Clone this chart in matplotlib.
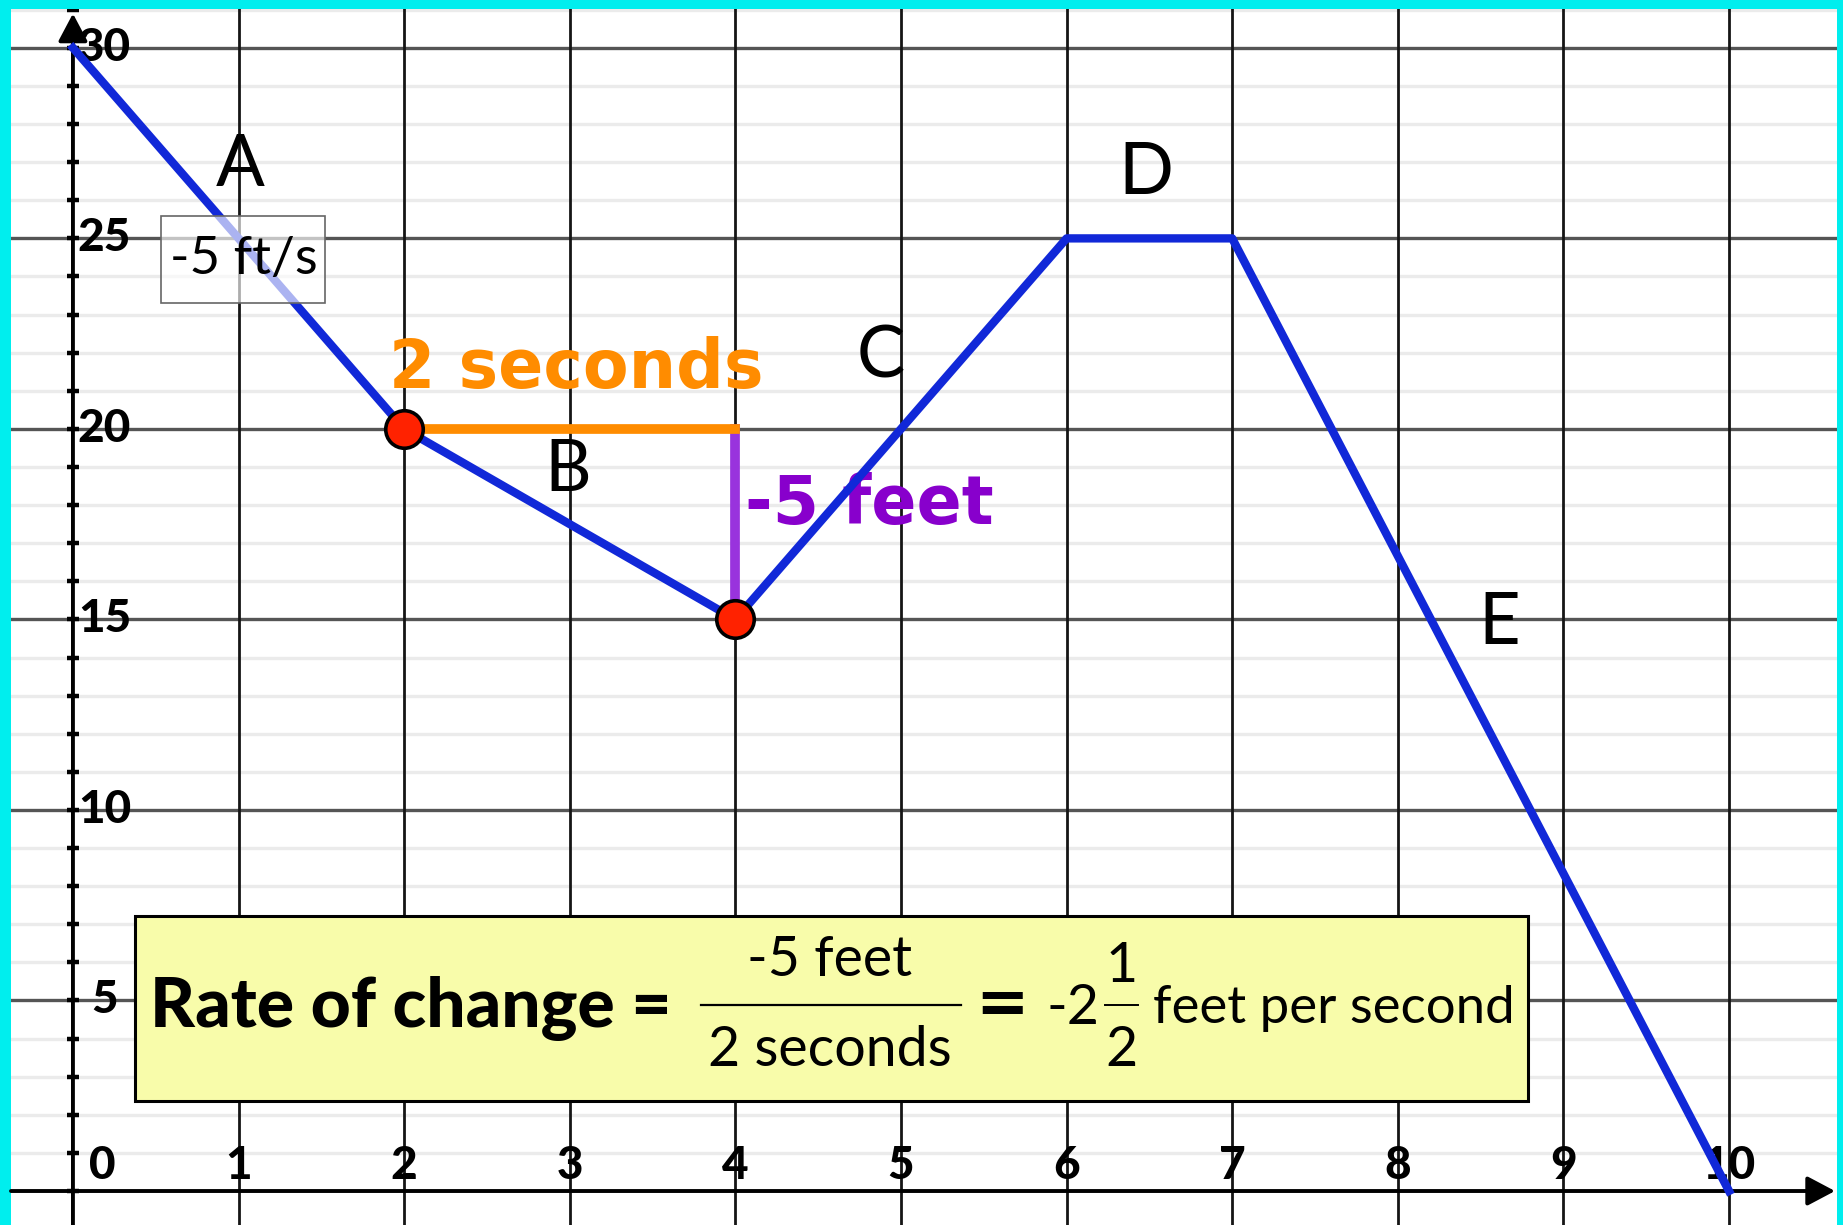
import matplotlib
matplotlib.use('Agg')
import matplotlib.pyplot as plt
from matplotlib.patches import Rectangle

# 高度-时间折线数据
time_s = [0, 2, 4, 6, 7, 10]
height_ft = [30, 20, 15, 25, 25, 0]
# 计算变化率用的两个点
mark_t = [2, 4]
mark_h = [20, 15]
x_ticks = [0, 1, 2, 3, 4, 5, 6, 7, 8, 9, 10]
y_ticks = [0, 5, 10, 15, 20, 25, 30]
y_minor = list(range(0, 32))
segment_names = ['A', 'B', 'C', 'D', 'E']
segment_pos = [(1.01, 26.9), (2.99, 18.9), (4.88, 21.9), (6.48, 26.7), (8.61, 14.9)]

BLUE = '#1128d8'
ORANGE = '#ff8c00'
PURPLE = '#8800cc'

fig = plt.figure(figsize=(18.43, 12.25), dpi=100, facecolor='#00eeee')
ax = fig.add_axes([11 / 1843, 0, (1837 - 11) / 1843, (1225 - 9) / 1225])
ax.set_facecolor('white')
ax.set_xlim(-0.374, 10.652)
ax.set_ylim(-0.892, 31.02)
for s in ax.spines.values():
    s.set_visible(False)
ax.set_xticks([])
ax.set_yticks([])

# 网格
for y in y_minor:
    if y % 5 != 0:
        ax.axhline(y, color='#ebebeb', lw=2.4, zorder=0)
for y in y_ticks[1:]:
    ax.axhline(y, color='#555555', lw=2.4, zorder=1)
for x in x_ticks[1:]:
    ax.axvline(x, color='#151515', lw=2.0, zorder=1)

# 坐标轴和箭头
arrow = dict(arrowstyle='-|>,head_length=0.85,head_width=0.45', color='black',
             lw=2.8, shrinkA=0, shrinkB=0, mutation_scale=20)
ax.annotate('', xy=(10.64, 0), xytext=(-0.374, 0), arrowprops=arrow, zorder=2)
ax.annotate('', xy=(0, 30.9), xytext=(0, -0.892), arrowprops=arrow, zorder=2)
ax.plot([0] * len(y_minor), y_minor, ls='none', marker='_', ms=8, mew=3.2,
        color='black', zorder=2)

tick_font = dict(family='Lato', fontweight='black', fontsize=33, color='black')
for y in y_ticks[1:]:
    ax.text(0.19, y, str(y), ha='center', va='center', zorder=2.5, **tick_font)
for x in x_ticks:
    xx = 0.18 if x == 0 else x
    ax.text(xx, 0.66, str(x), ha='center', va='center', zorder=2.5, **tick_font)

# 折线
ax.plot(time_s, height_ft, color=BLUE, lw=6.0, zorder=3)
ax.plot([mark_t[1], mark_t[1]], [mark_h[0], mark_h[1]], color='#9933dd', lw=7, zorder=3.4)
ax.plot([mark_t[0], mark_t[1]], [mark_h[0], mark_h[0]], color=ORANGE, lw=7, zorder=3.5)
ax.plot(mark_t, mark_h, ls='none', marker='o', ms=27, mfc='#ff2200', mec='black',
        mew=2.6, zorder=6)

for name, (px, py) in zip(segment_names, segment_pos):
    ax.text(px, py, name, ha='center', va='center', family='Lato', fontsize=52,
            color='black', zorder=2.5)

ax.text(3.04, 21.58, '2 seconds', ha='center', va='center', family='DejaVu Sans',
        fontweight='bold', fontsize=48, color=ORANGE, zorder=2.5)
ax.text(4.81, 18.0, '-5 feet', ha='center', va='center', family='DejaVu Sans',
        fontweight='bold', fontsize=48, color=PURPLE, zorder=2.5)

# -5 ft/s 半透明框
ax.add_patch(Rectangle((0.53, 23.3), 0.99, 2.3, facecolor=(1, 1, 1, 0.65),
                       edgecolor='#666666', lw=1.2, zorder=4))
ax.text(1.03, 24.45, '-5 ft/s', ha='center', va='center', family='Lato',
        fontsize=38, color='black', zorder=5)

# 变化率公式框
ax.add_patch(Rectangle((0.374, 2.36), 8.412, 4.85, facecolor='#f8fcaa',
                       edgecolor='black', lw=2.2, zorder=7))
ax.text(0.465, 4.80, 'Rate of change =', ha='left', va='center', family='Lato',
        fontweight='black', fontsize=50, color='black', zorder=8)
ax.text(4.57, 6.06, '-5 feet', ha='center', va='center', family='Lato',
        fontsize=40, color='black', zorder=8)
ax.text(4.57, 3.70, '2 seconds', ha='center', va='center', family='Lato',
        fontsize=40, color='black', zorder=8)
ax.plot([3.79, 5.36], [4.88, 4.88], color='black', lw=1.6, zorder=8)
ax.text(5.61, 4.88, '=', ha='center', va='center', family='DejaVu Sans',
        fontweight='bold', fontsize=46, color='black', zorder=8)
ax.text(6.04, 4.80, '-2', ha='center', va='center', family='Lato',
        fontsize=40, color='black', zorder=8)
ax.text(6.33, 5.90, '1', ha='center', va='center', family='Lato',
        fontsize=40, color='black', zorder=8)
ax.text(6.33, 3.70, '2', ha='center', va='center', family='Lato',
        fontsize=40, color='black', zorder=8)
ax.plot([6.23, 6.43], [4.88, 4.88], color='black', lw=1.4, zorder=8)
ax.text(6.52, 4.80, 'feet per second', ha='left', va='center', family='Lato',
        fontsize=38, color='black', zorder=8)

fig.savefig('out.png', dpi=100, facecolor=fig.get_facecolor())
